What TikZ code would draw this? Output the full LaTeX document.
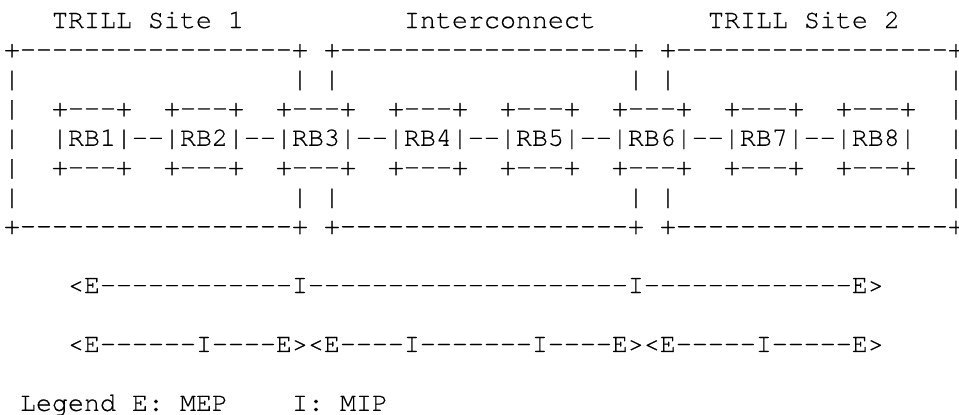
\documentclass[tikz,border=0pt]{standalone}
\usepackage{fontspec}
\setmonofont{TeX Gyre Cursor}[FakeBold=0.4]
\begin{document}
\begin{tikzpicture}[x=16pt,y=-29.45pt,
  txt/.style={inner sep=0pt,outer sep=0pt,anchor=base west,text=black,
    font=\ttfamily\fontsize{26.66pt}{29.4pt}\selectfont}]
\fill[white] (0pt,0pt) rectangle (959pt,-415pt);
\useasboundingbox (0pt,0pt) rectangle (959pt,-415pt);
\begin{scope}[shift={(4pt,-28pt)}]
% titles
\node[txt] (site1) at (3,0) {TRILL Site 1};
\node[txt] (inter) at (25,0) {Interconnect};
\node[txt] (site2) at (44,0) {TRILL Site 2};
% top borders
\node[txt] (t1) at (0,1) {+-----------------+};
\node[txt] (t2) at (20,1) {+------------------+};
\node[txt] (t3) at (41,1) {+-----------------+};
% bottom borders
\node[txt] (b1) at (0,7) {+-----------------+};
\node[txt] (b2) at (20,7) {+------------------+};
\node[txt] (b3) at (41,7) {+-----------------+};
% vertical bars
\foreach \k in {2,3,4,5,6}{
  \node[txt] (la\k) at (0,\k) {|};
  \node[txt] (ra\k) at (59,\k) {|};
}
\foreach \k in {2,6}{
  \node[txt] (ba\k) at (18,\k) {|};
  \node[txt] (bb\k) at (20,\k) {|};
  \node[txt] (bc\k) at (39,\k) {|};
  \node[txt] (bd\k) at (41,\k) {|};
}
% RBridge boxes
\foreach \c in {3,10,17,24,31,38,45,52}{
  \node[txt] (bt\c) at (\c,3) {+---+};
  \node[txt] (bl\c) at (\c,5) {+---+};
}
\node[txt] (rbs) at (3,4) {|RB1|--|RB2|--|RB3|--|RB4|--|RB5|--|RB6|--|RB7|--|RB8|};
% maintenance paths
\node[txt] (pa) at (4,9) {<E------------I--------------------I-------------E>};
\node[txt] (pb) at (4,11) {<E------I----E><E----I-------I----E><E-----I-----E>};
% legend
\node[txt] (lg1) at (1,13) {Legend E: MEP};
\node[txt] (lg2) at (18,13) {I: MIP};
\end{scope}
\end{tikzpicture}
\end{document}
